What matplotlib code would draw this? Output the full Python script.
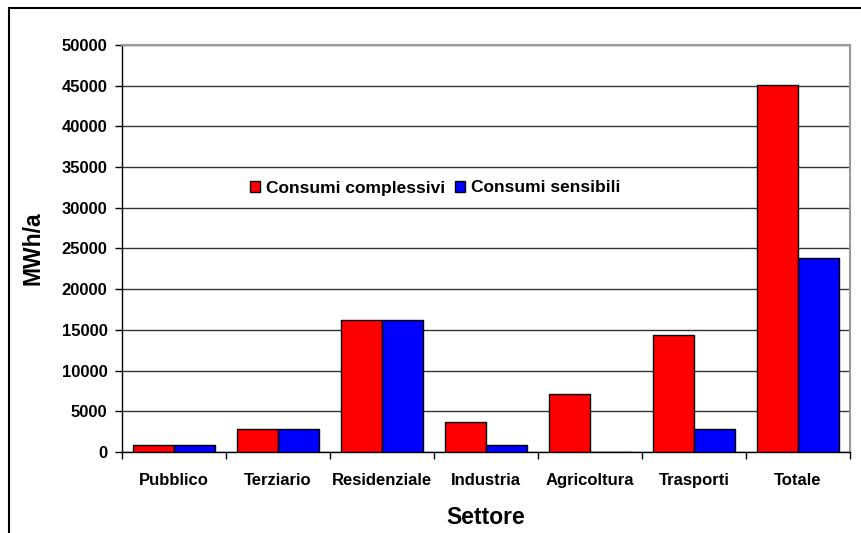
import matplotlib.pyplot as plt
import numpy as np
from matplotlib.patches import Rectangle

plt.rcParams['font.family'] = ['Liberation Sans', 'DejaVu Sans']

settori = ['Pubblico', 'Terziario', 'Residenziale', 'Industria', 'Agricoltura', 'Trasporti', 'Totale']
complessivi = [900, 2800, 16250, 3700, 7150, 14400, 45100]
sensibili = [900, 2800, 16250, 900, 0, 2850, 23800]
yticks = [0, 5000, 10000, 15000, 20000, 25000, 30000, 35000, 40000, 45000, 50000]

fig = plt.figure(figsize=(8.62, 5.33), dpi=100)
ax = fig.add_axes([122/862, 1 - 452/533, (850-122)/862, (452-45)/533])

x = np.arange(len(settori))
w = 0.395
ax.bar(x - w/2, complessivi, w, color='#ff0000', edgecolor='black', linewidth=1, label='Consumi complessivi', zorder=3)
ax.bar(x + w/2, sensibili, w, color='#0000ff', edgecolor='black', linewidth=1, label='Consumi sensibili', zorder=3)

ax.set_xlim(-0.5, len(settori) - 0.5)
ax.set_ylim(0, 50000)
ax.set_yticks(yticks)
ax.set_yticklabels([str(v) for v in yticks], fontsize=12, fontweight='bold')
ax.yaxis.grid(True, color='#333333', linewidth=1, zorder=0)

# category ticks at boundaries, labels at centres
ax.set_xticks(np.arange(-0.5, len(settori)))
ax.set_xticklabels([])
ax.set_xticks(x, minor=True)
ax.set_xticklabels(settori, minor=True, fontsize=12, fontweight='bold')
ax.tick_params(axis='x', which='minor', length=0, pad=15)
ax.tick_params(axis='both', which='major', length=5, width=1, color='black', direction='out')
ax.tick_params(axis='y', pad=5.5)

for s in ['top', 'right']:
    ax.spines[s].set_color('#999999')
    ax.spines[s].set_linewidth(1.5)
for s in ['left', 'bottom']:
    ax.spines[s].set_color('black')
    ax.spines[s].set_linewidth(1)

ax.set_ylabel('MWh/a', fontsize=16.5, fontweight='bold', labelpad=12)
ax.set_xlabel('Settore', fontsize=16.5, fontweight='bold', labelpad=13)

leg = ax.legend(loc='center', bbox_to_anchor=((435-122)/(850-122), (452-188)/(452-45)),
                ncol=2, frameon=False, prop={'weight': 'bold', 'size': 12.5},
                handlelength=0.6, handleheight=0.6, handletextpad=0.3, columnspacing=0.6)

# outer chart border
fig.patches.append(Rectangle((9/862, -0.1), 1.2, 1 - 8/533 + 0.1, transform=fig.transFigure,
                             fill=False, edgecolor='black', linewidth=1.5))

fig.savefig('out.png', dpi=100)
